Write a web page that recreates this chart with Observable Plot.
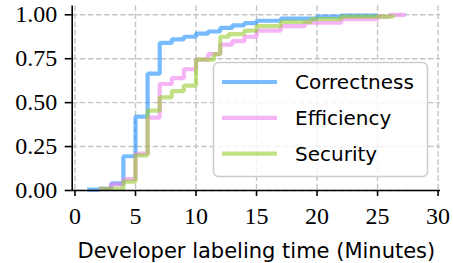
<!DOCTYPE html>
<html><head><meta charset="utf-8">
<script src="https://cdn.jsdelivr.net/npm/d3@7"></script>
<script src="https://cdn.jsdelivr.net/npm/@observablehq/plot@0.6"></script>
<style>html,body{margin:0;padding:0;background:#fff}</style>
</head><body><div id="chart"></div>
<script>
const seriesNames = ["Correctness", "Efficiency", "Security"];
const seriesColors = ["#1E90FF", "#EE82EE", "#9ACD32"];

const correctnessTime = [1, 2, 3, 4, 5, 6, 7, 8, 9, 10, 11, 12, 13, 14, 15, 17, 20, 22, 25];
const correctnessCDF  = [0.005, 0.01, 0.04, 0.195, 0.42, 0.665, 0.84, 0.86, 0.875, 0.893, 0.905, 0.925, 0.94, 0.953, 0.966, 0.978, 0.99, 0.996, 1.0];

const efficiencyTime = [2, 3, 4, 5, 6, 7, 8, 9, 10, 11, 12, 13, 14, 15, 17, 19, 22, 25, 26, 27.3];
const efficiencyCDF  = [0.01, 0.035, 0.065, 0.21, 0.415, 0.606, 0.64, 0.69, 0.745, 0.776, 0.83, 0.85, 0.875, 0.91, 0.935, 0.955, 0.975, 0.99, 1.0, 1.0];

const securityTime = [2, 4, 5, 6, 7, 8, 9, 10, 11.5, 12, 12.7, 14, 15, 17, 19.5, 22, 26.3];
const securityCDF  = [0.01, 0.05, 0.2, 0.455, 0.53, 0.565, 0.597, 0.745, 0.776, 0.875, 0.89, 0.91, 0.935, 0.96, 0.975, 0.99, 1.0];

const xTicks = [0, 5, 10, 15, 20, 25, 30];
const yTicks = [0, 0.25, 0.5, 0.75, 1.0];
const xLabel = "Developer labeling time (Minutes)";
const xDomain = [-0.23, 30.2];
const yDomain = [0, 1.05];

const seriesTimes = [correctnessTime, efficiencyTime, securityTime];
const seriesCDFs = [correctnessCDF, efficiencyCDF, securityCDF];
const rows = [];
seriesNames.forEach((name, i) => {
  seriesTimes[i].forEach((t, j) => rows.push({series: name, t, p: seriesCDFs[i][j]}));
});

const gridStyle = {stroke: "#c4c4c4", strokeOpacity: 1, strokeWidth: 1.4, strokeDasharray: "5.5,2.6"};

const plot = Plot.plot({
  width: 453, height: 263,
  marginLeft: 71.7, marginRight: 13, marginTop: 5.5, marginBottom: 73,
  style: {background: "#fff", overflow: "visible"},
  x: {domain: xDomain},
  y: {domain: yDomain},
  color: {domain: seriesNames, range: seriesColors},
  marks: [
    Plot.gridX(xTicks, gridStyle),
    Plot.gridY(yTicks, gridStyle),
    Plot.line(rows, {x: "t", y: "p", z: "series", stroke: "series", curve: "step-after", strokeWidth: 4.2, strokeOpacity: 0.6, strokeLinejoin: "miter", strokeLinecap: "butt"}),
    Plot.ruleX([xDomain[0]], {stroke: "#000", strokeWidth: 1.6}),
    Plot.ruleY([yDomain[0]], {stroke: "#000", strokeWidth: 1.6}),
    Plot.axisX(xTicks, {tickSize: 6, tickPadding: 10, strokeWidth: 1.6, stroke: "#000", fill: "#000", tickFormat: d => String(d), fontSize: 24, fontFamily: "Liberation Serif", label: null}),
    Plot.axisY(yTicks, {tickSize: 7, tickPadding: 8, strokeWidth: 1.6, stroke: "#000", fill: "#000", tickFormat: d => d.toFixed(2), fontSize: 24, fontFamily: "Liberation Serif", label: null}),
    Plot.text([xLabel], {frameAnchor: "bottom", dy: 61, text: d => d, fontSize: 21, fontFamily: "DejaVu Sans", fill: "#000", lineAnchor: "middle"})
  ]
});

// legend (inside the axes, lower right)
const svg = d3.select(plot);
const lg = svg.append("g").attr("text-anchor", "start");
lg.append("rect").attr("x", 213.5).attr("y", 62.5).attr("width", 214).attr("height", 114)
  .attr("rx", 5).attr("fill", "#fff").attr("fill-opacity", 0.8)
  .attr("stroke", "#cccccc").attr("stroke-width", 1.5);
seriesNames.forEach((name, i) => {
  const y = 82 + i * 35.8;
  lg.append("line").attr("x1", 222).attr("x2", 277).attr("y1", y).attr("y2", y)
    .attr("stroke", seriesColors[i]).attr("stroke-opacity", 0.6).attr("stroke-width", 4.2);
  lg.append("text").attr("x", 295).attr("y", y).attr("dy", "0.36em")
    .attr("text-anchor", "start")
    .attr("font-family", "DejaVu Sans").attr("font-size", 20).attr("fill", "#000").text(name);
});

document.getElementById("chart").appendChild(plot);
</script>
</body></html>
